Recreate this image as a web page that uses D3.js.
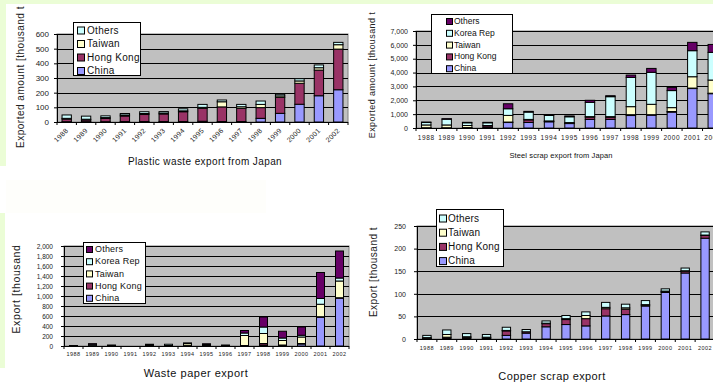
<!DOCTYPE html>
<html><head><meta charset="utf-8">
<script src="https://cdn.jsdelivr.net/npm/d3@7"></script>
<style>
body{margin:0;background:#fff;}
svg{display:block;font-family:"Liberation Sans",Arial,sans-serif;}
</style>
</head><body>
<svg id="c" width="713" height="383"></svg>
<script>
const years = ["1988","1989","1990","1991","1992","1993","1994","1995","1996","1997","1998","1999","2000","2001","2002"];

// Plastic waste export from Japan (thousand t)
const plasticChina    = [2,2,2,3,3,3,3,5,3,3,25,59,121,179,220];
const plasticHongKong = [18,12,22,38,48,52,67,88,100,90,73,109,143,175,277];
const plasticTaiwan   = [5,5,6,7,7,6,6,7,35,11,22,10,16,16,30];
const plasticOthers   = [23,21,12,10,12,10,14,20,12,16,23,11,15,19,16];
const plasticTicks    = [0,100,200,300,400,500,600];

// Steel scrap export from Japan (thousand t)
const steelChina    = [10,10,20,30,400,400,450,320,620,620,900,930,1150,2850,2480];
const steelHongKong = [10,10,10,130,30,190,30,40,160,150,60,30,40,30,30];
const steelTaiwan   = [200,200,150,20,480,30,30,30,40,50,580,750,280,820,950];
const steelKorea    = [180,420,200,200,480,530,400,420,1030,1440,2110,2310,1230,1880,2000];
const steelOthers   = [30,30,30,30,360,50,30,60,150,70,170,280,230,600,570];
const steelTicks    = [0,1000,2000,3000,4000,5000,6000,7000];

// Waste paper export (thousand t)
const paperChina    = [0,5,0,0,5,5,5,5,0,0,20,10,40,580,960];
const paperHongKong = [5,5,10,0,5,5,10,20,10,10,30,10,10,5,5];
const paperTaiwan   = [0,5,0,0,0,0,40,0,0,200,200,90,130,250,335];
const paperKorea    = [0,25,0,0,20,25,0,0,0,50,130,50,35,115,60];
const paperOthers   = [5,5,10,0,5,0,5,20,10,50,200,135,165,520,540];
const paperTicks    = [0,200,400,600,800,1000,1200,1400,1600,1800,2000];

// Copper scrap export (thousand t)
const copperChina    = [1,2,2,1,8,13,27,32,29,51,54,73,103,146,223];
const copperHongKong = [1,2,2,2,10,3,7,11,16,16,12,2,2,4,6];
const copperTaiwan   = [1,6,1,1,1,0,1,2,7,3,3,1,1,1,1];
const copperOthers   = [5,10,7,6,7,5,5,7,8,11,8,9,5,6,7];
const copperTicks    = [0,50,100,150,200,250];

const C = {china:"#9999ff", hk:"#993366", tw:"#ffffcc", kr:"#ccffff", othL:"#ccffff", othD:"#660066"};

const svg = d3.select("#c");
// light green page strips
svg.append("rect").attr("x",0).attr("y",0).attr("width",713).attr("height",4).attr("fill","#ebfdd6");
svg.append("rect").attr("x",0).attr("y",0).attr("width",6).attr("height",166).attr("fill","#ebfdd6");
svg.append("rect").attr("x",0).attr("y",213).attr("width",5).attr("height",155).attr("fill","#ebfdd6");
svg.append("rect").attr("x",6).attr("y",180).attr("width",260).attr("height",33).attr("fill","#fefefb");

function panel(cfg){
  const g = svg.append("g");
  const x = d3.scaleBand().domain(years).range([cfg.x0, cfg.x1]).paddingInner(cfg.pad).paddingOuter(cfg.pad/2);
  const y = d3.scaleLinear().domain([0, d3.max(cfg.ticks)]).range([cfg.y1, cfg.y0]);
  const step = x.step();
  g.append("rect").attr("x",cfg.x0).attr("y",cfg.y0).attr("width",cfg.x1-cfg.x0).attr("height",cfg.y1-cfg.y0)
    .attr("fill","#c0c0c0").attr("stroke","#808080").attr("stroke-width",1);
  g.selectAll("line.grid").data(cfg.ticks.filter(t=>t>0)).join("line")
    .attr("x1",cfg.x0).attr("x2",cfg.x1).attr("y1",d=>Math.round(y(d))+0.5).attr("y2",d=>Math.round(y(d))+0.5)
    .attr("stroke","#000").attr("stroke-width",1);

  const keys = cfg.series.map(s=>s.key);
  const rows = years.map((yr,i)=>{const r={year:yr}; cfg.series.forEach(s=>r[s.key]=s.values[i]); return r;});
  const stacked = d3.stack().keys(keys)(rows);
  stacked.forEach((layer,li)=>{
    g.selectAll(null).data(layer.filter(d=>d[1]-d[0]>0)).join("rect")
      .attr("x",d=>x(d.data.year)).attr("width",x.bandwidth())
      .attr("y",d=>y(d[1])).attr("height",d=>Math.max(0.5,y(d[0])-y(d[1])))
      .attr("fill",cfg.series[li].color).attr("stroke","#000").attr("stroke-width",1);
  });

  // axes
  const ya = g.append("g").attr("transform",`translate(${cfg.x0},0)`)
    .call(d3.axisLeft(y).tickValues(cfg.ticks).tickSize(3).tickPadding(cfg.yPad||5).tickFormat(cfg.fmt));
  ya.select(".domain").attr("stroke","#000");
  ya.selectAll(".tick line").attr("stroke","#000");
  ya.selectAll("text").attr("font-size",cfg.yFont).attr("fill","#222").attr("font-family",'"Liberation Sans",Arial,sans-serif');

  g.append("line").attr("x1",cfg.x0).attr("x2",cfg.x1).attr("y1",cfg.y1+0.5).attr("y2",cfg.y1+0.5).attr("stroke","#000");
  g.selectAll("line.xt").data(d3.range(years.length+1)).join("line")
    .attr("x1",i=>cfg.x0+i*step).attr("x2",i=>cfg.x0+i*step).attr("y1",cfg.y1).attr("y2",cfg.y1+3).attr("stroke","#000");

  const xl = g.selectAll("text.xl").data(years).join("text")
    .attr("font-size",cfg.xFont).attr("fill","#222").attr("letter-spacing",cfg.xSpace||0).text(d=>d);
  if(cfg.rotate){
    xl.attr("text-anchor","end")
      .attr("transform",d=>`translate(${x(d)+x.bandwidth()/2+2},${cfg.y1+9}) rotate(-45)`);
  } else {
    xl.attr("text-anchor","middle").attr("x",d=>x(d)+x.bandwidth()/2).attr("y",cfg.y1+cfg.xOff);
  }

  // titles
  g.append("text").attr("x",cfg.title[1]).attr("y",cfg.title[2]).attr("text-anchor","middle")
    .attr("font-size",cfg.title[3]).attr("letter-spacing",cfg.title[4]).attr("fill","#111").text(cfg.title[0]);
  g.append("text").attr("transform",`translate(${cfg.ytitle[1]},${cfg.ytitle[2]}) rotate(-90)`).attr("text-anchor","middle")
    .attr("font-size",cfg.ytitle[3]).attr("letter-spacing",cfg.ytitle[4]).attr("fill","#222").text(cfg.ytitle[0]);

  // legend
  const L = cfg.legend;
  g.append("rect").attr("x",L.x+0.5).attr("y",L.y+0.5).attr("width",L.w).attr("height",L.h).attr("fill","#fff").attr("stroke","#000");
  const items = cfg.series.slice().reverse();
  items.forEach((s,i)=>{
    const cy = L.y + L.first + i*L.gap;
    g.append("rect").attr("x",L.x+L.sx+0.5).attr("y",cy-L.sq/2+0.5).attr("width",L.sq).attr("height",L.sq)
      .attr("fill",s.color).attr("stroke","#000");
    g.append("text").attr("x",L.x+L.tx).attr("y",cy).attr("dy","0.36em").attr("font-size",L.font)
      .attr("letter-spacing",L.space||0).attr("fill","#111").text(s.name);
  });
}

const f0 = d3.format(",");

panel({x0:57,x1:348,y0:34,y1:122,pad:0.52,ticks:plasticTicks,fmt:f0,yFont:8,xFont:7,xSpace:0.3,rotate:true,
  series:[{key:"china",name:"China",values:plasticChina,color:C.china},
          {key:"hk",name:"Hong Kong",values:plasticHongKong,color:C.hk},
          {key:"tw",name:"Taiwan",values:plasticTaiwan,color:C.tw},
          {key:"oth",name:"Others",values:plasticOthers,color:C.othL}],
  title:["Plastic waste export from Japan",205,165,10,0.4],
  ytitle:["Exported amount [thousand t",24,77,10,0.5],
  legend:{x:73,y:22,w:67,h:53,first:8,gap:13.5,sx:4,sq:7,tx:14,font:10,space:0.3}});

panel({x0:416,x1:723,y0:31,y1:128,pad:0.54,ticks:steelTicks,fmt:f0,yFont:7,xFont:6.5,xSpace:0.6,xOff:12,
  series:[{key:"china",name:"China",values:steelChina,color:C.china},
          {key:"hk",name:"Hong Kong",values:steelHongKong,color:C.hk},
          {key:"tw",name:"Taiwan",values:steelTaiwan,color:C.tw},
          {key:"kr",name:"Korea Rep",values:steelKorea,color:C.kr},
          {key:"oth",name:"Others",values:steelOthers,color:C.othD}],
  title:["Steel scrap export from Japan",561,158,7.5,0.1],
  ytitle:["Exported amount [thousand t",375,75,9,0.4],
  legend:{x:431,y:14,w:81,h:59,first:7,gap:11.8,sx:15,sq:6,tx:23,font:8.5,space:0}});

panel({x0:64,x1:349,y0:246,y1:346,pad:0.58,ticks:paperTicks,fmt:f0,yFont:6.5,xFont:5.5,xSpace:0.5,xOff:10,yPad:8,
  series:[{key:"china",name:"China",values:paperChina,color:C.china},
          {key:"hk",name:"Hong Kong",values:paperHongKong,color:C.hk},
          {key:"tw",name:"Taiwan",values:paperTaiwan,color:C.tw},
          {key:"kr",name:"Korea Rep",values:paperKorea,color:C.kr},
          {key:"oth",name:"Others",values:paperOthers,color:C.othD}],
  title:["Waste paper export",196,377,11,0.5],
  ytitle:["Export [thousand",20,289,10.5,0.6],
  legend:{x:83,y:242,w:62,h:61,first:7,gap:12.2,sx:3,sq:6,tx:12,font:9,space:0.2}});

panel({x0:417,x1:715,y0:226,y1:339,pad:0.58,ticks:copperTicks,fmt:f0,yFont:7,xFont:5.5,xSpace:0.5,xOff:11,yPad:8,
  series:[{key:"china",name:"China",values:copperChina,color:C.china},
          {key:"hk",name:"Hong Kong",values:copperHongKong,color:C.hk},
          {key:"tw",name:"Taiwan",values:copperTaiwan,color:C.tw},
          {key:"oth",name:"Others",values:copperOthers,color:C.othL}],
  title:["Copper scrap export",552,380,11,0.4],
  ytitle:["Export [thousand t",377,272,10,0.5],
  legend:{x:436,y:209,w:67,h:57,first:9,gap:14.2,sx:3,sq:7,tx:12,font:10,space:0.2}});
</script>
</body></html>
